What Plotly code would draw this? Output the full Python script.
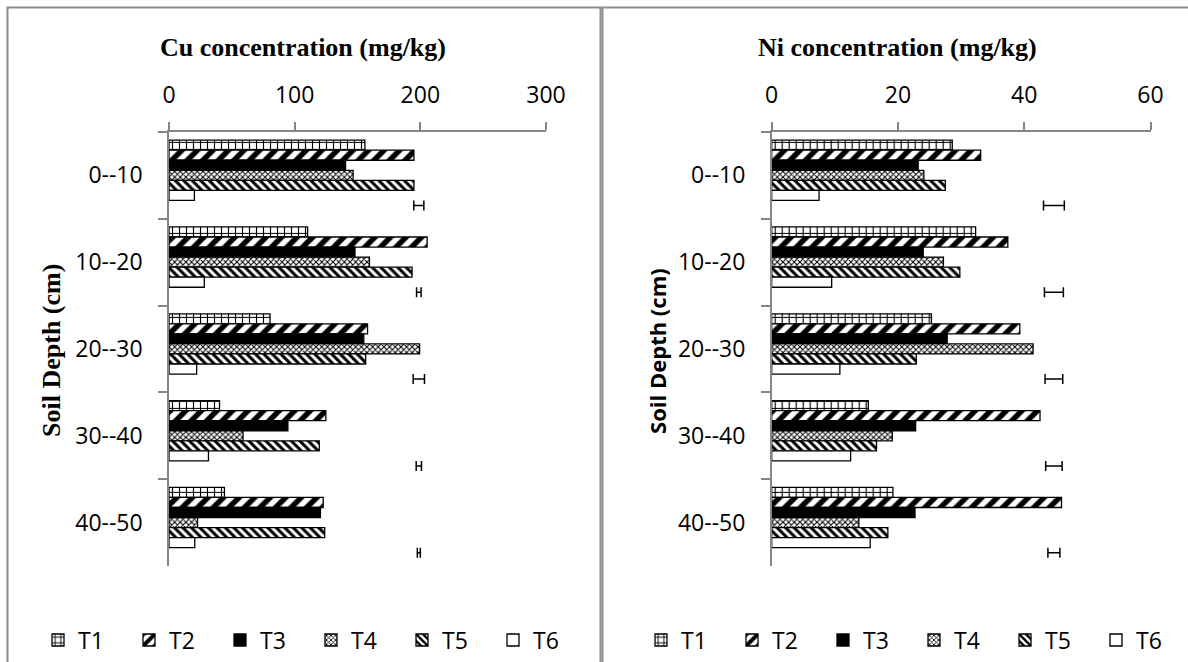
import plotly.graph_objects as go

# ---------------- data ----------------
depths = ["0--10", "10--20", "20--30", "30--40", "40--50"]
treatments = ["T1", "T2", "T3", "T4", "T5", "T6"]

cu_t1 = [155.9, 110.3, 80.4, 40.2, 44.1]
cu_t2 = [194.9, 205.4, 158.0, 124.8, 122.7]
cu_t3 = [140.5, 148.0, 155.0, 94.6, 120.5]
cu_t4 = [146.5, 159.5, 199.4, 58.9, 22.7]
cu_t5 = [194.9, 193.4, 156.5, 119.6, 123.9]
cu_t6 = [20.2, 28.1, 22.0, 31.4, 20.5]
cu_lsd_pos = [198.8, 198.8, 198.8, 198.8, 198.8]
cu_lsd_half = [4.0, 1.8, 4.5, 2.1, 1.2]

ni_t1 = [28.6, 32.3, 25.3, 15.3, 19.2]
ni_t2 = [33.1, 37.4, 39.3, 42.5, 45.9]
ni_t3 = [23.2, 24.0, 27.8, 22.8, 22.7]
ni_t4 = [24.1, 27.2, 41.4, 19.1, 13.8]
ni_t5 = [27.5, 29.8, 22.9, 16.6, 18.4]
ni_t6 = [7.5, 9.5, 10.8, 12.5, 15.6]
ni_lsd_pos = [44.7, 44.7, 44.7, 44.7, 44.7]
ni_lsd_half = [1.65, 1.5, 1.4, 1.3, 0.95]

cu_ticks = [0, 100, 200, 300]
ni_ticks = [0, 20, 40, 60]

# ---------------- styles ----------------
W, H = 1188, 662
SANS = "Open Sans"
SERIF = "Liberation Serif"
AXIS_GREY = "#868686"
FRAME_GREY = "#8c8c8c"

patterns = {
    "T1": dict(shape="+", size=7, solidity=0.3),
    "T2": dict(shape="/", size=11, solidity=0.5),
    "T3": None,
    "T4": dict(shape="x", size=4, solidity=0.45),
    "T5": dict(shape="\\", size=6, solidity=0.5),
    "T6": None,
}
fills = {"T1": "white", "T2": "white", "T3": "black", "T4": "white", "T5": "white", "T6": "white"}


def px_x(p):
    return p / W


def px_y(p):
    return (H - p) / H


fig = go.Figure()


def add_panel(values, lsd_pos, lsd_half, xaxis, yaxis, legend):
    for name, vals in zip(treatments, values):
        pat = patterns[name]
        marker = dict(color=fills[name], line=dict(color="black", width=1.3))
        if pat is not None:
            marker["pattern"] = dict(fgcolor="black", bgcolor="white", fillmode="replace", **pat)
        fig.add_trace(go.Bar(
            name=name, x=vals, y=depths, orientation="h",
            marker=marker, xaxis=xaxis, yaxis=yaxis, legend=legend,
        ))
    fig.add_trace(go.Bar(
        name="LSD", x=lsd_pos, y=depths, orientation="h",
        marker=dict(color="rgba(0,0,0,0)", line=dict(width=0)),
        error_x=dict(type="data", array=lsd_half, symmetric=True,
                     color="black", thickness=1.5, width=5),
        showlegend=False, xaxis=xaxis, yaxis=yaxis,
    ))


add_panel([cu_t1, cu_t2, cu_t3, cu_t4, cu_t5, cu_t6], cu_lsd_pos, cu_lsd_half, "x", "y", "legend")
add_panel([ni_t1, ni_t2, ni_t3, ni_t4, ni_t5, ni_t6], ni_lsd_pos, ni_lsd_half, "x2", "y2", "legend2")

y_dom = [px_y(567.7), px_y(132.3)]

xcommon = dict(side="top", showgrid=False, zeroline=False, showline=True,
               linecolor=AXIS_GREY, linewidth=1.5, ticks="outside", ticklen=8,
               tickcolor=AXIS_GREY, tickwidth=1.5, tickfont=dict(family=SANS, size=23, color="black"),
               ticklabelstandoff=10, automargin=False, fixedrange=True)
ycommon = dict(type="category", autorange="reversed", showgrid=False, zeroline=False,
               showline=True, linecolor=AXIS_GREY, linewidth=1.5, ticks="outside",
               ticklen=9, tickcolor=AXIS_GREY, tickwidth=1.5, tickson="boundaries",
               tickfont=dict(family=SANS, size=23, color="black"), ticklabelstandoff=20,
               automargin=False, fixedrange=True)

legcommon = dict(orientation="h", xanchor="left", yanchor="middle",
                 entrywidth=46, entrywidthmode="pixels", itemwidth=30, traceorder="normal",
                 font=dict(family=SANS, size=23, color="black"), bgcolor="rgba(0,0,0,0)")

fig.update_layout(
    width=W, height=H,
    margin=dict(l=0, r=0, t=0, b=0),
    paper_bgcolor="white", plot_bgcolor="white",
    barmode="group", bargap=0.19, bargroupgap=0,
    xaxis=dict(domain=[px_x(169), px_x(546)], range=[0, 300], tickvals=cu_ticks, anchor="y", **xcommon),
    yaxis=dict(domain=y_dom, anchor="x", **ycommon),
    xaxis2=dict(domain=[px_x(771.7), px_x(1150.5)], range=[0, 60], tickvals=ni_ticks, anchor="y2", **xcommon),
    yaxis2=dict(domain=y_dom, anchor="x2", **ycommon),
    legend=dict(x=px_x(38), y=px_y(642), **legcommon),
    legend2=dict(x=px_x(641), y=px_y(642), **legcommon),
    showlegend=True,
)

# panel frames
fig.add_shape(type="rect", xref="paper", yref="paper", x0=px_x(7.5), x1=px_x(600.5),
              y0=-0.05, y1=px_y(7.5), line=dict(color=FRAME_GREY, width=2), layer="below")
fig.add_shape(type="rect", xref="paper", yref="paper", x0=px_x(602.5), x1=1.05,
              y0=-0.05, y1=px_y(7.5), line=dict(color=FRAME_GREY, width=2), layer="below")

# titles
title_font = dict(family=SERIF, size=26, color="black")
fig.add_annotation(text="<b>Cu concentration (mg/kg)</b>", xref="paper", yref="paper",
                   x=px_x(303), y=px_y(48), showarrow=False, xanchor="center", yanchor="middle",
                   font=title_font)
fig.add_annotation(text="<b>Ni concentration (mg/kg)</b>", xref="paper", yref="paper",
                   x=px_x(898), y=px_y(48), showarrow=False, xanchor="center", yanchor="middle",
                   font=title_font)
fig.add_annotation(text="<b>Soil Depth (cm)</b>", xref="paper", yref="paper",
                   x=px_x(52), y=px_y(352), showarrow=False, textangle=-90,
                   xanchor="center", yanchor="middle", font=title_font)
fig.add_annotation(text="<b>Soil Depth (cm)</b>", xref="paper", yref="paper",
                   x=px_x(657), y=px_y(352), showarrow=False, textangle=-90,
                   xanchor="center", yanchor="middle",
                   font=dict(family=SANS, size=22, color="black"))

fig.write_html("out.html", config={"displayModeBar": False},
               post_script="document.body.style.margin='0';document.body.style.overflow='hidden';")
